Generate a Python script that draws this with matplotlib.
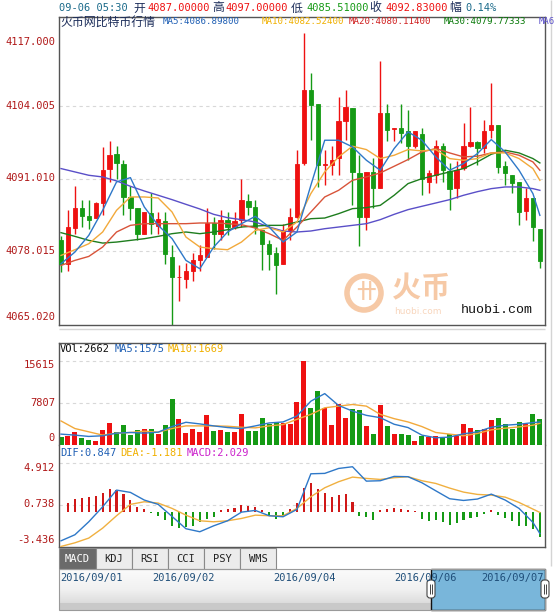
import numpy as np
import matplotlib.pyplot as plt
from matplotlib.patches import Rectangle, Circle, FancyBboxPatch
from matplotlib.colors import LinearSegmentedColormap

# ---------------- data ----------------
opens = [4080.0, 4075.8, 4082.2, 4085.7, 4084.3, 4084.0, 4086.6, 4092.7, 4095.5, 4093.7,
         4087.8, 4085.7, 4081.2, 4084.9, 4082.5, 4083.5, 4077.0, 4073.4, 4073.1, 4074.5,
         4076.4, 4077.0, 4083.1, 4081.1, 4083.7, 4082.4, 4083.6, 4087.0, 4086.0, 4081.8,
         4079.3, 4077.7, 4075.7, 4081.8, 4084.2, 4093.8, 4106.9, 4104.4, 4093.4, 4093.5,
         4094.7, 4101.4, 4103.6, 4092.0, 4084.2, 4092.3, 4089.3, 4102.8, 4099.9, 4100.1,
         4099.6, 4096.8, 4099.0, 4090.5, 4091.7, 4096.8, 4092.4, 4089.3, 4092.9, 4096.8,
         4097.6, 4096.5, 4099.8, 4100.7, 4093.3, 4091.7, 4090.4, 4085.2, 4087.5, 4082.0]
highs = [4080.8, 4085.5, 4089.7, 4087.2, 4087.2, 4086.9, 4096.6, 4097.7, 4096.8, 4094.3,
         4089.8, 4085.7, 4085.1, 4088.5, 4085.1, 4085.1, 4079.1, 4075.5, 4075.9, 4077.7,
         4079.1, 4085.8, 4084.2, 4085.4, 4085.1, 4085.1, 4091.0, 4088.3, 4087.2, 4081.8,
         4080.0, 4078.8, 4083.0, 4085.7, 4096.1, 4117.0, 4109.9, 4104.4, 4096.2, 4096.8,
         4105.7, 4106.9, 4103.6, 4095.3, 4092.3, 4094.7, 4112.0, 4104.4, 4100.0, 4104.4,
         4103.3, 4099.5, 4100.1, 4092.6, 4098.0, 4097.4, 4093.8, 4094.1, 4101.0, 4103.9,
         4097.7, 4101.6, 4108.1, 4100.7, 4094.1, 4091.7, 4090.4, 4089.3, 4087.5, 4082.0]
lows = [4074.3, 4074.5, 4081.2, 4082.4, 4082.1, 4083.9, 4084.5, 4090.4, 4090.9, 4084.6,
        4083.6, 4080.0, 4081.1, 4081.2, 4081.2, 4075.7, 4064.8, 4069.2, 4071.5, 4072.8,
        4074.5, 4077.0, 4078.5, 4080.0, 4080.9, 4082.1, 4082.4, 4084.6, 4081.2, 4074.7,
        4074.7, 4070.4, 4075.7, 4080.0, 4083.9, 4093.5, 4098.0, 4089.6, 4089.9, 4091.7,
        4091.7, 4098.0, 4086.3, 4078.9, 4081.8, 4085.7, 4089.3, 4097.7, 4097.7, 4097.4,
        4094.4, 4096.5, 4088.1, 4088.4, 4090.2, 4090.5, 4085.4, 4087.5, 4092.6, 4096.6,
        4093.5, 4095.6, 4098.3, 4092.0, 4089.9, 4088.4, 4082.7, 4083.6, 4079.8, 4075.0]
closes = [4075.8, 4082.3, 4085.7, 4084.3, 4083.6, 4086.7, 4092.5, 4095.3, 4093.8, 4087.8,
          4085.8, 4081.2, 4085.1, 4082.9, 4083.8, 4077.6, 4073.4, 4073.5, 4074.5, 4076.5,
          4077.3, 4083.1, 4081.1, 4083.6, 4082.4, 4083.4, 4087.2, 4086.0, 4082.4, 4079.4,
          4077.5, 4075.5, 4081.8, 4084.2, 4093.7, 4106.9, 4104.2, 4093.5, 4093.6, 4094.4,
          4101.3, 4103.8, 4092.3, 4084.2, 4092.3, 4089.3, 4102.8, 4099.8, 4100.0, 4099.2,
          4096.8, 4099.5, 4091.0, 4092.0, 4096.8, 4092.6, 4089.2, 4092.6, 4096.8, 4097.6,
          4096.5, 4099.6, 4100.7, 4093.2, 4092.0, 4090.2, 4085.1, 4087.5, 4082.3, 4076.3]
volumes = [1525, 1709, 2327, 1286, 918, 796, 2756, 4041, 2327, 3674,
           1898, 2817, 2939, 2939, 2021, 3674, 8633, 4776, 2205, 2939,
           2449, 5511, 2633, 2817, 2327, 2327, 5695, 2633, 2633, 5082,
           3980, 4200, 4163, 3857, 7961, 15615, 6920, 10104, 6920, 3674,
           7532, 4960, 6613, 6430, 3551, 2021, 7349, 3551, 2021, 2021,
           1837, 796, 1715, 1408, 1715, 1408, 2021, 1715, 3857, 3245,
           2817, 2939, 4592, 4960, 3980, 3061, 4286, 3857, 5695, 4898]
macd_hist = [0.0, 0.90, 1.30, 1.40, 1.50, 1.63, 1.96, 2.29, 2.23, 1.83,
             1.23, 0.57, 0.34, -0.05, -0.33, -0.73, -1.39, -1.56, -1.46, -1.33,
             -0.99, -0.66, -0.46, 0.27, 0.33, 0.43, 0.76, 0.66, 0.50, 0.27,
             -0.40, -0.65, -0.33, 0.33, 0.89, 2.39, 2.88, 2.32, 1.89, 1.56,
             1.72, 1.79, 1.06, -0.33, -0.43, -0.76, 0.23, 0.33, 0.40, 0.33,
             0.20, 0.13, -0.66, -0.86, -0.76, -0.93, -1.26, -1.09, -0.76, -0.60,
             -0.43, -0.17, 0.27, -0.27, -0.60, -0.86, -1.33, -1.33, -1.66, -2.42]

# indicator lines, read every second bar
line_idx = list(range(0, 70, 2)) + [69]
ma5 = [4075.80, 4077.89, 4080.88, 4085.36, 4090.44, 4091.21, 4085.96, 4082.67, 4080.30, 4076.40,
       4074.91, 4078.79, 4081.48, 4082.97, 4084.28, 4082.37, 4079.68, 4081.48, 4089.84, 4097.90,
       4097.90, 4096.71, 4094.32, 4092.53, 4096.41, 4099.40, 4097.90, 4094.92, 4092.53, 4093.72,
       4095.51, 4098.02, 4095.81, 4092.53, 4088.35, 4084.46]
ma10 = [4077.29, 4078.31, 4079.38, 4081.48, 4085.36, 4087.75, 4087.75, 4087.57, 4085.06, 4080.58,
        4078.79, 4078.49, 4078.31, 4079.68, 4081.77, 4082.25, 4081.48, 4083.27, 4088.35, 4092.23,
        4094.92, 4096.83, 4096.23, 4094.62, 4095.21, 4096.23, 4095.99, 4096.23, 4094.62, 4094.32,
        4094.62, 4095.63, 4095.63, 4094.62, 4092.83, 4090.73]
ma20 = [4075.50, 4076.40, 4077.11, 4078.79, 4081.48, 4082.67, 4082.97, 4082.97, 4082.97, 4082.97,
        4083.09, 4083.09, 4082.97, 4082.79, 4082.19, 4081.18, 4079.98, 4082.37, 4085.06, 4087.75,
        4088.94, 4090.73, 4091.33, 4092.05, 4093.24, 4094.44, 4095.81, 4096.41, 4095.63, 4094.92,
        4095.04, 4095.63, 4095.81, 4095.21, 4094.02, 4092.53]
ma30 = [4081.36, 4080.70, 4079.98, 4079.50, 4079.68, 4079.98, 4080.28, 4080.70, 4081.18, 4081.48,
        4081.18, 4081.48, 4081.89, 4082.37, 4082.55, 4082.67, 4082.67, 4083.27, 4083.86, 4083.98,
        4084.76, 4085.66, 4085.84, 4086.25, 4088.05, 4090.14, 4091.03, 4091.63, 4092.23, 4092.83,
        4094.02, 4095.39, 4096.11, 4095.63, 4094.62, 4093.84]
ma60 = [4092.83, 4092.23, 4091.63, 4091.33, 4090.62, 4089.66, 4088.82, 4088.05, 4087.27, 4086.43,
        4085.60, 4084.64, 4084.04, 4083.69, 4083.27, 4082.37, 4081.66, 4081.48, 4081.66, 4082.07,
        4082.37, 4082.67, 4082.97, 4083.69, 4084.64, 4085.48, 4086.08, 4086.67, 4087.27, 4088.05,
        4088.70, 4089.24, 4089.54, 4089.54, 4089.24, 4088.94]
vol_ma5 = [2021, 1837, 1592, 1715, 2204, 2327, 2204, 2388, 3429, 4225, 3919, 3551, 3245, 3061,
           3551, 4102, 4286, 5389, 8144, 9553, 7349, 6308, 5511, 5082, 3857, 3245, 1837, 1347,
           1470, 2082, 2449, 3306, 3674, 3857, 4163, 4286]
vol_ma10 = [4469, 3061, 2449, 1837, 2204, 2327, 2572, 2388, 3061, 3551, 3551, 3551, 3490, 3306,
            3184, 3551, 3796, 4776, 5695, 6920, 7226, 7532, 7226, 5695, 4898, 4286, 3429, 2327,
            2021, 1715, 2143, 2817, 3122, 3367, 3674, 4041]
dif = [-2.82, -2.22, -0.93, 0.56, 2.22, 1.99, 1.23, 0.80, -0.40, -1.62, -1.92, -1.33, -0.83, 0.03,
       0.20, -0.33, -0.43, 0.30, 3.84, 3.88, 4.37, 4.54, 3.11, 3.15, 3.58, 3.55, 2.95, 2.15,
       1.36, 1.19, 1.33, 1.82, 1.23, 0.40, -0.99, -2.09]
dea = [-3.38, -3.02, -2.55, -1.56, -0.33, 0.80, 1.06, 0.93, 0.40, -0.27, -0.83, -0.93, -0.83, -0.60,
       -0.27, -0.33, -0.33, 0.40, 1.56, 2.45, 3.05, 3.51, 3.38, 3.28, 3.45, 3.55, 3.15, 2.88,
       2.42, 2.02, 1.79, 1.72, 1.52, 0.99, 0.33, 0.00]

price_ticks = [4117.000, 4104.005, 4091.010, 4078.015, 4065.020]
vol_ticks = [15615, 7807, 0]
macd_ticks = [4.912, 0.738, -3.436]
tab_names = ['MACD', 'KDJ', 'RSI', 'CCI', 'PSY', 'WMS']
nav_dates = ['2016/09/01', '2016/09/02', '2016/09/04', '2016/09/06', '2016/09/07']

# ---------------- layout helpers ----------------
W, H = 556, 612
RED, GREEN = '#ee1111', '#159a15'
LABEL_RED = '#b01818'
MONO = 'DejaVu Sans Mono'
CJK = ['Noto Sans CJK SC', 'DejaVu Sans']

def rect(x0, y0, x1, y1):
    return [x0 / W, 1 - y1 / H, (x1 - x0) / W, (y1 - y0) / H]

fig = plt.figure(figsize=(W / 100, H / 100), dpi=100)
fig.patch.set_facecolor('white')

n = len(closes)
xs = np.arange(n)
up = [c >= o for o, c in zip(opens, closes)]
XL = (-0.29, 69.74)

def style_box(ax, hide=()):
    ax.set_xlim(*XL)
    ax.set_xticks([])
    ax.set_yticks([])
    for k, s in ax.spines.items():
        s.set_color('#555555')
        s.set_linewidth(1)
        if k in hide:
            s.set_visible(False)

def grid(ax, levels):
    for v in levels:
        ax.axhline(v, color='#d8d8d8', lw=0.8, ls=(0, (3, 3)), zorder=0)

# ---------------- main candle panel ----------------
ax = fig.add_axes(rect(59, 17, 545, 325))
style_box(ax)
ax.set_ylim(4064.84, 4119.95)
grid(ax, price_ticks[1:4])
for i in range(n):
    col = RED if up[i] else GREEN
    ax.vlines(xs[i], lows[i], highs[i], color=col, lw=1, zorder=2)
    body = closes[i] - opens[i]
    ax.bar(xs[i], body, bottom=opens[i], width=0.62, color=col, edgecolor=col, lw=0.6, zorder=3)
ax.plot(line_idx, ma60, color='#5a4fc8', lw=1, zorder=4)
ax.plot(line_idx, ma30, color='#1e7d1e', lw=1, zorder=4)
ax.plot(line_idx, ma20, color='#d8543a', lw=1, zorder=4)
ax.plot(line_idx, ma10, color='#f2a93b', lw=1, zorder=4)
ax.plot(line_idx, ma5, color='#2e78c8', lw=1, zorder=4)

# ---------------- volume panel ----------------
av = fig.add_axes(rect(59, 343, 545, 445))
style_box(av, hide=('bottom',))
av.set_ylim(0, 15615 * 102 / 84)
grid(av, [15615, 7807.5])
av.bar(xs, volumes, width=0.72, color=[RED if u else GREEN for u in up], zorder=2)
av.plot(line_idx, vol_ma10, color='#f2a93b', lw=1, zorder=3)
av.plot(line_idx, vol_ma5, color='#2e78c8', lw=1, zorder=3)

# ---------------- MACD panel ----------------
am = fig.add_axes(rect(59, 445, 545, 547))
style_box(am, hide=('top',))
am.set_ylim(-3.436, 4.912 + 18 / 10.06)
grid(am, [4.912, 0.738])
am.bar(xs, macd_hist, width=0.3, color=['#d01818' if v >= 0 else GREEN for v in macd_hist], zorder=2)
am.plot(line_idx, dea, color='#f0b040', lw=1, zorder=3)
am.plot(line_idx, dif, color='#2e78c8', lw=1, zorder=3)

# ---------------- overlay in pixel coordinates ----------------
ov = fig.add_axes([0, 0, 1, 1])
ov.set_xlim(0, W)
ov.set_ylim(H, 0)
ov.axis('off')

def t(x, y, s, color, fam=MONO, size=7.5, **kw):
    ov.text(x, y, s, color=color, family=fam, fontsize=size, va='center', ha=kw.pop('ha', 'left'), **kw)

# header row
NAVY = '#1c2d5a'
TEAL = '#1a6a8a'
t(59, 8, '09-06 05:30', TEAL)
t(133, 8, '开', NAVY, CJK, 8.5)
t(147, 8, '4087.00000', RED)
t(212, 8, '高', NAVY, CJK, 8.5)
t(225, 8, '4097.00000', RED)
t(291, 8, '低', NAVY, CJK, 8.5)
t(306, 8, '4085.51000', GREEN)
t(369, 8, '收', NAVY, CJK, 8.5)
t(385, 8, '4092.83000', RED)
t(449, 8, '幅', NAVY, CJK, 8.5)
t(465, 8, '0.14%', TEAL)

t(60, 22, '火币网比特币行情', NAVY, CJK, 8.6)
t(163, 22, 'MA5:4086.89800', '#1f5fb4', size=6.6)
t(262, 22, 'MA10:4082.52400', '#f0b000', size=6.6)
t(349, 22, 'MA20:4080.11400', '#d02020', size=6.6)
t(444, 22, 'MA30:4079.77333', '#0a7a0a', size=6.6)
t(539, 22, 'MA6', '#5a4fc8', size=6.4)

# axis labels
for v, y in zip(price_ticks, [42, 106, 178, 251, 317]):
    t(55, y, f'{v:.3f}', LABEL_RED, ha='right')
for v, y in zip(vol_ticks, [365, 403, 438]):
    t(55, y, f'{v}', LABEL_RED, ha='right')
for v, y in zip(macd_ticks, [468, 504, 540]):
    t(55, y, f'{v:.3f}', LABEL_RED, ha='right')

# sub-panel headers
t(60, 349, 'VOl:2662', '#111111')
t(115, 349, 'MA5:1575', '#1f5fb4')
t(168, 349, 'MA10:1669', '#f0b000')
t(60, 453, 'DIF:0.847', '#1f5fb4')
t(120, 453, 'DEA:-1.181', '#f0b000')
t(187, 453, 'MACD:2.029', '#cc22cc')

# watermark
ov.add_patch(Circle((364, 293), 17, fill=False, ec='#f6c9a6', lw=4))
t(356, 293, '卄', '#f6c9a6', CJK, 14, ha='left', fontweight='bold')
t(392, 288, '火币', '#f6c9a6', CJK, 21, fontweight='bold')
t(394, 311, 'huobi.com', '#f8d6bd', 'DejaVu Sans', 6.5)
t(461, 310, 'huobi.com', '#111111', 'Liberation Mono', 9.5)

# thin separator under the price panel
ov.hlines(329, 59, 545, color='#d6d6d6', lw=1)

# tabs
tab_x = [59, 96, 132, 168, 204, 240, 276]
for k, name in enumerate(tab_names):
    x0, x1 = tab_x[k], tab_x[k + 1]
    active = k == 0
    ov.add_patch(Rectangle((x0, 548), x1 - x0, 21, fc='#6a6a6a' if active else '#ececec',
                           ec='#8a8a8a', lw=0.8))
    t((x0 + x1) / 2, 558.5, name, 'white' if active else '#222222', ha='center')

# navigator
nav_cmap = LinearSegmentedColormap.from_list('nav', ['#fbfbfb', '#f1f1f1', '#d2d2d2'])
grad = np.linspace(0, 1, 40).reshape(-1, 1)
ov.imshow(grad, cmap=nav_cmap, extent=[59, 545, 610, 569], aspect='auto', zorder=0)
ov.add_patch(Rectangle((59, 603), 486, 7, fc='#c9c9c9', ec='none', zorder=1))
ov.add_patch(Rectangle((431, 569), 114, 41, fc='#79b6da', ec='#111111', lw=1, zorder=2))
ov.add_patch(Rectangle((59, 569), 486, 41, fill=False, ec='#9a9a9a', lw=0.8, zorder=3))
for hx in (431, 545):
    ov.add_patch(FancyBboxPatch((hx - 4, 580), 8, 18, boxstyle='round,pad=0,rounding_size=3',
                                fc='white', ec='#444444', lw=0.8, zorder=4))
    ov.vlines([hx - 1.3, hx + 1.3], 584, 594, color='#444444', lw=0.7, zorder=5)
for d, x in zip(nav_dates, [60, 152, 273, 394, 481]):
    t(x, 578, d, '#1f4e79', zorder=6)
ov.set_xlim(0, W)
ov.set_ylim(H, 0)

ov.vlines(551, 0, 566, color='#d4d4d4', lw=1)

fig.savefig('out.png', dpi=100)
